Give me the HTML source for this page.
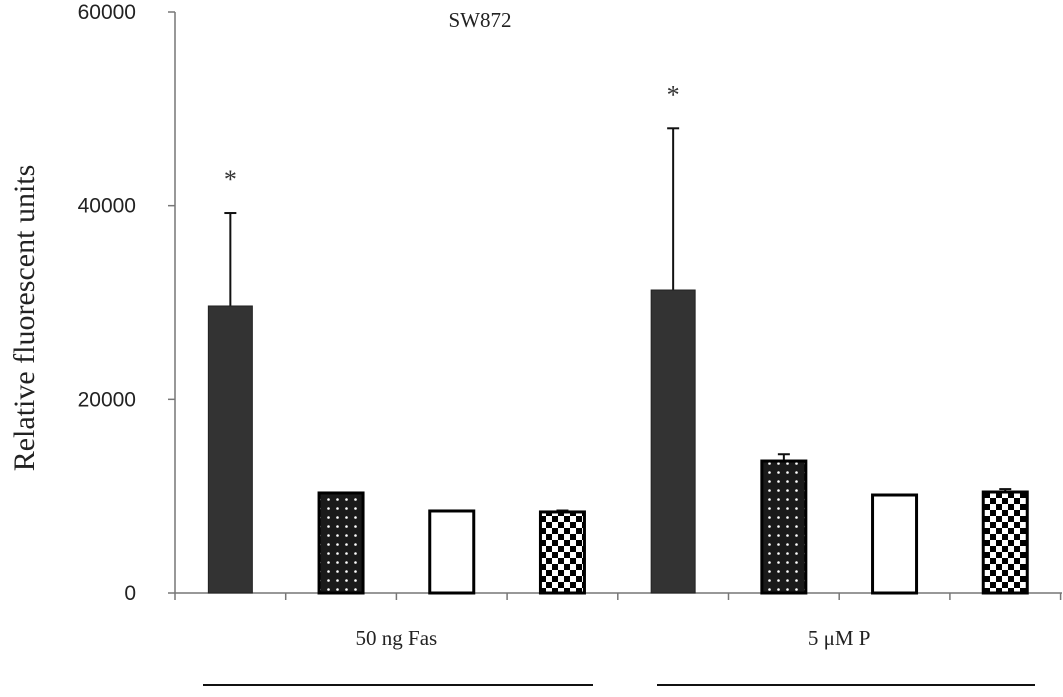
<!DOCTYPE html>
<html><head><meta charset="utf-8"><style>
html,body{margin:0;padding:0;background:#fff;}
svg{display:block;font-family:"Liberation Serif",serif;}
</style></head><body>
<svg id="chart" width="1063" height="697" viewBox="0 0 1063 697">
<defs>
<pattern id="dots" width="9" height="9" patternUnits="userSpaceOnUse"><rect width="9" height="9" fill="#1a1a1a"/><circle cx="4.5" cy="4.5" r="1.3" fill="#fff"/></pattern>
<pattern id="checks" width="12" height="12" patternUnits="userSpaceOnUse"><rect width="12" height="12" fill="#fff"/><rect width="6" height="6" fill="#000"/><rect x="6" y="6" width="6" height="6" fill="#000"/></pattern>
</defs>
<g id="plot"></g>
</svg>
<script>
const categories = ["50 ng Fas","5 μM P"];
const values = [29640, 10330, 8470, 8370, 31290, 13630, 10120, 10430];
const errors = [9600, 0, 0, 150, 16700, 700, 0, 300];
const fills = ["dark","dots","open","checks","dark","dots","open","checks"];
const stars = [true,false,false,false,true,false,false,false];
const yTicks = [0,20000,40000,60000];
const yTickLabels = ["0","20000","40000","60000"];

const NS="http://www.w3.org/2000/svg";
const g=document.getElementById('plot');
const x0=175,slot=110.7,bw=44;
const y=v=>593-v*(581/60000);
const xc=i=>x0+slot*(i+0.5);
function mk(t,a,txt){const e=document.createElementNS(NS,t);for(const k in a)e.setAttribute(k,a[k]);if(txt!==undefined)e.textContent=txt;g.appendChild(e);return e;}

let e;
e=mk('line',{x1:x0,y1:12,x2:x0,y2:593,stroke:'#777','stroke-width':1.5});


e=mk('line',{x1:x0,y1:593,x2:1062,y2:593,stroke:'#777','stroke-width':1.5});


yTicks.forEach((t,i)=>{
  mk('line',{x1:x0-7,y1:y(t),x2:x0,y2:y(t),stroke:'#777','stroke-width':1.5});
  e=mk('text',{x:136,y:y(t)+7,'text-anchor':'end','font-size':21,fill:'#222','font-family':'"Liberation Sans",sans-serif'},yTickLabels[i]);
  
  
});
for(let i=0;i<=values.length;i++){mk('line',{x1:x0+slot*i,y1:593,x2:x0+slot*i,y2:600,stroke:'#777','stroke-width':1.5});}
values.forEach((v,i)=>{
  const cx=xc(i),top=y(v);
  if(errors[i]>0){
    const et=y(v+errors[i]);
    mk('line',{x1:cx,y1:et,x2:cx,y2:top,stroke:'#111','stroke-width':2});
    mk('line',{x1:cx-6,y1:et,x2:cx+6,y2:et,stroke:'#111','stroke-width':2});
  }
  const f=fills[i];
  e=mk('rect',{x:cx-bw/2,y:top,width:bw,height:593-top,
    fill:f==='dark'?'#333':f==='dots'?'url(#dots)':f==='checks'?'url(#checks)':'#fff',
    stroke:f==='dark'?'#222':'#000','stroke-width':f==='dark'?1:3});
  
  
  if(stars[i]){
    e=mk('text',{x:cx,y:y(v+errors[i])-25,'text-anchor':'middle','font-size':26,fill:'#333'},'*');
    
    
  }
});
categories.forEach((c,j)=>{
  const cx=x0+slot*(j*4+2);
  e=mk('text',{x:cx,y:645,'text-anchor':'middle','font-size':21,fill:'#222'},c);
  
  
});
e=mk('line',{x1:203,y1:685,x2:593,y2:685,stroke:'#111','stroke-width':2});


e=mk('line',{x1:657,y1:685,x2:1035,y2:685,stroke:'#111','stroke-width':2});


e=mk('text',{x:480,y:27,'text-anchor':'middle','font-size':21,fill:'#222'},'SW872');


e=mk('text',{x:0,y:0,'text-anchor':'middle','font-size':30,fill:'#222',transform:'translate(34,318) rotate(-90)'},'Relative fluorescent units');


</script>
</body></html>
